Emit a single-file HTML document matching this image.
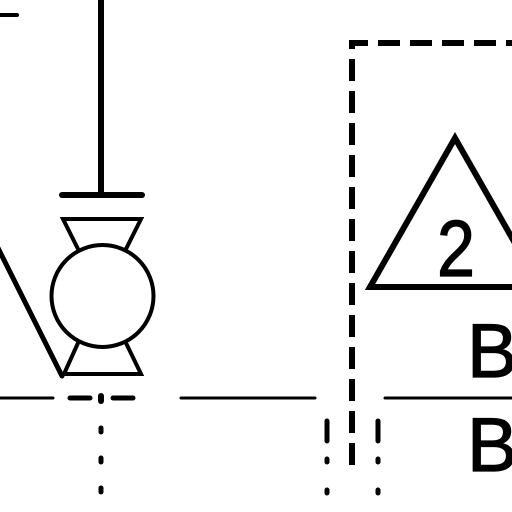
<!DOCTYPE html>
<html><head><meta charset="utf-8"><style>html,body{margin:0;padding:0;background:#fff;overflow:hidden}svg{display:block}</style></head>
<body>
<svg width="512" height="512" viewBox="0 0 512 512" stroke="#000" fill="none" stroke-linecap="round">
<line x1="-2" y1="15" x2="17" y2="15" stroke-width="4"/>
<line x1="101" y1="-2" x2="101" y2="195" stroke-width="6"/>
<line x1="62" y1="195" x2="142" y2="195" stroke-width="6"/>
<path d="M78,249 L63,219 L141,219 L126,249" stroke-width="4" stroke-linejoin="miter"/>
<circle cx="102.5" cy="296" r="51" stroke-width="4"/>
<path d="M78,343 L64,374 L141,374 L126,343" stroke-width="4"/>
<line x1="-3" y1="246" x2="62" y2="376" stroke-width="5"/>
<line x1="-2" y1="398" x2="53" y2="398" stroke-width="3"/>
<line x1="70" y1="398" x2="90" y2="398" stroke-width="5"/>
<line x1="101" y1="396" x2="101" y2="401" stroke-width="6"/>
<line x1="113" y1="398" x2="133" y2="398" stroke-width="5"/>
<line x1="181" y1="398" x2="315" y2="398" stroke-width="3"/>
<line x1="385" y1="398" x2="514" y2="398" stroke-width="3"/>
<line x1="101" y1="428" x2="101" y2="500" stroke-width="5" stroke-dasharray="4 26"/>
<path d="M352,465 L352,43 L514,43" stroke-width="6" stroke-dasharray="22 10" stroke-linecap="butt"/>
<line x1="327" y1="421" x2="327" y2="500" stroke-width="5" stroke-dasharray="20 18 3 28 3 30"/>
<line x1="378" y1="421" x2="378" y2="500" stroke-width="5" stroke-dasharray="20 18 3 28 3 30"/>
<path d="M370,287 L455,138 L540,287 Z" stroke-width="6" stroke-linejoin="miter"/>
<text x="437" y="276" font-family="Liberation Sans, sans-serif" font-size="80" fill="#000" stroke="#000" stroke-width="1.2" textLength="38" lengthAdjust="spacingAndGlyphs">2</text>
<text x="467" y="377" font-family="Liberation Sans, sans-serif" font-size="76" fill="#000" stroke="#000" stroke-width="1.2">B3</text>
<text x="467" y="471" font-family="Liberation Sans, sans-serif" font-size="76" fill="#000" stroke="#000" stroke-width="1.2">B3</text>
</svg>
</body></html>
